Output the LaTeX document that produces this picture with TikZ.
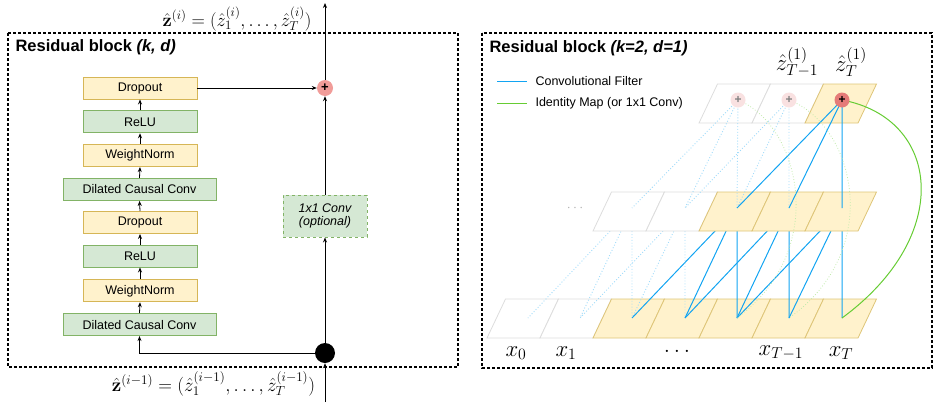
\RequirePackage{fix-cm}
\documentclass[tikz,border=0pt]{standalone}
\usepackage[no-math]{fontspec}
\setmainfont{Liberation Sans}
\usetikzlibrary{arrows.meta}
\definecolor{yfill}{HTML}{FFF2CC}
\definecolor{ydraw}{HTML}{D6B656}
\definecolor{gfill}{HTML}{D5E8D4}
\definecolor{gdraw}{HTML}{82B366}
\definecolor{plusred}{HTML}{F19C99}
\definecolor{plusdark}{HTML}{E57B78}
\definecolor{plusfaint}{HTML}{F9E1E1}
\definecolor{convblue}{HTML}{12A4F2}
\definecolor{idgreen}{HTML}{66CC33}
\definecolor{cellgray}{HTML}{DDDDDD}
\newcommand\pcell[3]{\draw[#3] (#1,#2) -- ++(53,0) -- ++(18.5,-39) -- ++(-53,0) -- cycle;}
\newcommand\mylabelmath[1]{\scalebox{1.1}{$#1$}}
\tikzset{
  basebox/.style={line width=0.9pt, minimum width=114, minimum height=22, inner sep=0, font=\fontsize{12.5}{14}\selectfont},
  ybox/.style={basebox, draw=ydraw, fill=yfill},
  gbox/.style={basebox, draw=gdraw, fill=gfill},
  convbox/.style={basebox, draw=gdraw, fill=gfill, dashed, minimum width=84, minimum height=42, align=center},
  arr/.style={-{Stealth[length=5pt,width=4pt]}, line width=0.8pt},
  panel/.style={line width=1.3pt, dash pattern=on 3pt off 2pt},
  ptitle/.style={anchor=west, font=\fontsize{16.5}{18}\selectfont\bfseries},
  blueline/.style={convblue, line width=1pt},
  bluefaint/.style={convblue!40, line width=0.9pt, dotted},
  greenfaint/.style={idgreen!40, line width=0.8pt, dotted},
  ycell/.style={draw=ydraw!80, fill=yfill, line width=0.8pt},
  wcell/.style={draw=cellgray, fill=white, line width=0.8pt},
  bigmath/.style={font=\fontsize{20.74}{24}\selectfont, inner sep=0},
}
\begin{document}
\begin{tikzpicture}[x=1pt,y=-1pt]
\useasboundingbox (0,0) rectangle (935,402);
% ---------------- left panel ----------------
\draw[panel] (8,33) rectangle (458,367);
\node[ptitle] (tl) at (12,47) {Residual block \textit{(k, d)}};
\node[ybox] (d1) at (140,88) {Dropout};
\node[gbox] (r1) at (140,121.8) {ReLU};
\node[ybox] (w1) at (140,155.6) {WeightNorm};
\node[gbox, minimum width=153] (c1) at (139.5,189.4) {Dilated Causal Conv};
\node[ybox] (d2) at (140,222.5) {Dropout};
\node[gbox] (r2) at (140,256) {ReLU};
\node[ybox] (w2) at (140,290.8) {WeightNorm};
\node[gbox, minimum width=153] (c2) at (139.5,324.6) {Dilated Causal Conv};
\draw[arr] (c2.north) -- (w2.south);
\draw[arr] (w2.north) -- (r2.south);
\draw[arr] (r2.north) -- (d2.south);
\draw[arr] (d2.north) -- (c1.south);
\draw[arr] (c1.north) -- (w1.south);
\draw[arr] (w1.north) -- (r1.south);
\draw[arr] (r1.north) -- (d1.south);
\node[circle, fill=black, minimum size=20, inner sep=0] (split) at (325,353) {};
\node[convbox] (conv) at (325,216) {\itshape 1x1 Conv\\[-1pt]\itshape (optional)};
\node[circle, fill=plusred, minimum size=16, inner sep=0, font=\fontsize{13}{13}\bfseries] (plus) at (325,88) {+};
\coordinate (inp) at (325,402);
\coordinate (outp) at (325,3);
\draw[arr] (inp) -- (split.south);
\draw[arr] (split.west) -| (c2.south);
\draw[arr] (split.north) -- (conv.south);
\draw[arr] (conv.north) -- (plus.south);
\draw[arr] (d1.east) -- (plus.west);
\draw[arr] (plus.north) -- (outp);
\node[font=\fontsize{17.28}{19}\selectfont, inner sep=0] (zout) at (237,19) {\scalebox{1.07}{$\hat{\mathbf{z}}^{(i)} = (\hat{z}_1^{(i)}, \ldots, \hat{z}_T^{(i)})$}};
\node[font=\fontsize{17.28}{19}\selectfont, inner sep=0] (zin) at (213.5,384) {\scalebox{1.1}{$\hat{\mathbf{z}}^{(i-1)} = (\hat{z}_1^{(i-1)}, \ldots, \hat{z}_T^{(i-1)})$}};
% ---------------- right panel ----------------
\draw[panel] (482,33) rectangle (932,368);
\node[ptitle] (tr) at (486,48) {Residual block \textit{(k=2, d=1)}};
\coordinate (lb1) at (497,81.5); \coordinate (lb2) at (527,81.5);
\coordinate (lg1) at (497,103.5); \coordinate (lg2) at (527,103.5);
\draw[blueline, line width=1.2pt] (lb1) -- (lb2);
\draw[idgreen, line width=1.2pt] (lg1) -- (lg2);
\node[anchor=west, font=\fontsize{12.5}{14}\selectfont] (lbt) at (532,81) {Convolutional Filter};
\node[anchor=west, font=\fontsize{12.5}{14}\selectfont] (lgt) at (532,103) {Identity Map (or 1x1 Conv)};
% points
\foreach \n/\x in {0/528,1/580,2/632,3/685,4/737,5/789,6/842} {\coordinate (b\n) at (\x,318);}
\foreach \n/\x in {2/632,3/685,4/737,5/789,6/842} {\coordinate (m\n) at (\x,208);}
\foreach \n/\x in {4/738,5/789,6/842} {\coordinate (t\n) at (\x,100);}
% top row
\pcell{699}{123}{wcell}
\pcell{752}{123}{wcell}
\pcell{805}{123}{ycell}
% bottom row
\pcell{487}{338}{wcell}
\pcell{540}{338}{wcell}
\pcell{593}{338}{ycell}
\pcell{646}{338}{ycell}
\pcell{699}{338}{ycell}
\pcell{752}{338}{ycell}
\pcell{805}{338}{ycell}
% mid -> bottom
\draw[bluefaint] (m2) -- (b0) (m2) -- (b1) (m2) -- (b2);
\draw[bluefaint] (m3) -- (b1) (m3) -- (b2) (m3) -- (b3);
\draw[blueline] (m4) -- (b2) (m4) -- (b3) (m4) -- (b4);
\draw[blueline] (m5) -- (b3) (m5) -- (b4) (m5) -- (b5);
\draw[blueline] (m6) -- (b4) (m6) -- (b5) (m6) -- (b6);
% middle row
\pcell{593}{231}{wcell}
\pcell{646}{231}{wcell}
\pcell{699}{231}{ycell}
\pcell{752}{231}{ycell}
\pcell{805}{231}{ycell}
\node[text=gray!60, font=\fontsize{14}{14}\selectfont] (mdots) at (575,208) {$\cdots$};
% top -> mid
\draw[bluefaint] (t4) -- (m2) (t4) -- (m3) (t4) -- (m4);
\draw[bluefaint] (t5) -- (m3) (t5) -- (m4) (t5) -- (m5);
\draw[blueline] (t6) -- (m4) (t6) -- (m5) (t6) -- (m6);
% identity maps
\draw[greenfaint] (t4) .. controls (800,125) and (830,250) .. (b4);
\draw[greenfaint] (t5) .. controls (855,125) and (885,250) .. (b5);
\draw[idgreen, line width=1pt] (t6) .. controls (940,118) and (955,235) .. (b6);
% plus nodes
\node[circle, fill=plusfaint, minimum size=15, inner sep=0, text=gray, font=\fontsize{12}{12}\bfseries] (p4) at (t4) {+};
\node[circle, fill=plusfaint, minimum size=15, inner sep=0, text=gray, font=\fontsize{12}{12}\bfseries] (p5) at (t5) {+};
\node[circle, fill=plusdark, minimum size=15, inner sep=0, font=\fontsize{12}{12}\bfseries] (p6) at (t6) {+};
% labels
\node[bigmath] (lz1) at (797,62) {\mylabelmath{\hat z^{(1)}_{T-1}}};
\node[bigmath] (lz2) at (851,62) {\mylabelmath{\hat z^{(1)}_{T}}};
\node[bigmath] (lx0) at (516,353) {\mylabelmath{x_0}};
\node[bigmath] (lx1) at (566,353) {\mylabelmath{x_1}};
\node[bigmath] (lxd) at (677,351) {\mylabelmath{\ldots}};
\node[bigmath] (lx2) at (781,353) {\mylabelmath{x_{T-1}}};
\node[bigmath] (lx3) at (841,353) {\mylabelmath{x_T}};
\end{tikzpicture}
\end{document}
